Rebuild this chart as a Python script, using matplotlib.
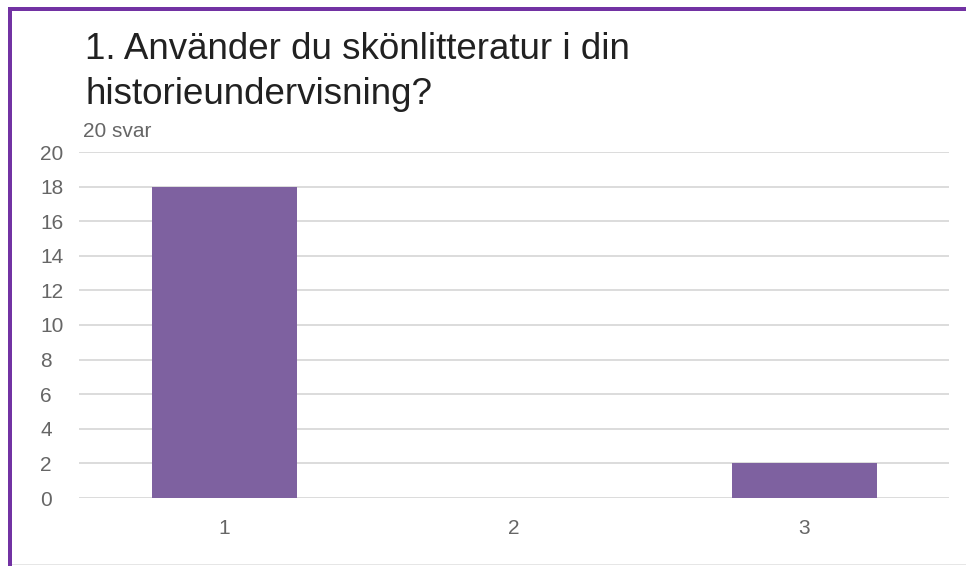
import matplotlib
matplotlib.use('Agg')
import matplotlib.pyplot as plt
from matplotlib.patches import Rectangle

plt.rcParams['font.family'] = ['Liberation Sans', 'DejaVu Sans']

TITLE_LINES = ["1. Använder du skönlitteratur i din", "historieundervisning?"]
SUBTITLE = "20 svar"
categories = ["1", "2", "3"]
counts = [18, 0, 2]
y_ticks = [0, 2, 4, 6, 8, 10, 12, 14, 16, 18, 20]

BAR_COLOR = "#7e61a0"
FRAME_COLOR = "#7232a3"
GRID_COLOR = "#d9d9d9"
TICK_COLOR = "#666666"

W, H = 966, 566
fig = plt.figure(figsize=(W / 100, H / 100), dpi=100)
fig.patch.set_facecolor("white")

# card border: purple top and left edges, faint gray at the bottom
fig.add_artist(Rectangle((8 / W, 1 - 11 / H), 1 - 8 / W, 4 / H, transform=fig.transFigure,
                         color=FRAME_COLOR, lw=0))
fig.add_artist(Rectangle((8 / W, 0), 4 / W, 1 - 7 / H, transform=fig.transFigure,
                         color=FRAME_COLOR, lw=0))
fig.add_artist(Rectangle((12 / W, 1 / H), 1 - 12 / W, 1.5 / H, transform=fig.transFigure,
                         color="#e6e6e6", lw=0))

ax = fig.add_axes([79 / W, 1 - 498 / H, (949 - 79) / W, (498 - 152) / H])
x = list(range(1, len(categories) + 1))
ax.bar(x, counts, width=0.5, color=BAR_COLOR, zorder=3)

ax.set_xlim(0.5, len(categories) + 0.5)
ax.set_ylim(0, 20)
ax.set_yticks(y_ticks)
ax.set_xticks(x)
ax.set_xticklabels(categories)
ax.yaxis.grid(True, color=GRID_COLOR, lw=1.3, zorder=0)
ax.set_axisbelow(True)
for s in ax.spines.values():
    s.set_visible(False)
ax.tick_params(axis="both", length=0, labelsize=15, labelcolor=TICK_COLOR)
ax.tick_params(axis="y", pad=28)
ax.tick_params(axis="x", pad=15)
for lbl in ax.get_yticklabels():
    lbl.set_horizontalalignment("left")

fig.text(85 / W, 1 - 59 / H, TITLE_LINES[0], fontsize=26.5,
         color="#212121", va="baseline", ha="left")
fig.text(85 / W, 1 - 104 / H, TITLE_LINES[1], fontsize=26.5,
         color="#212121", va="baseline", ha="left")
fig.text(83 / W, 1 - 137 / H, SUBTITLE, fontsize=15, color=TICK_COLOR,
         va="baseline", ha="left")

fig.savefig("out.png", dpi=100)
